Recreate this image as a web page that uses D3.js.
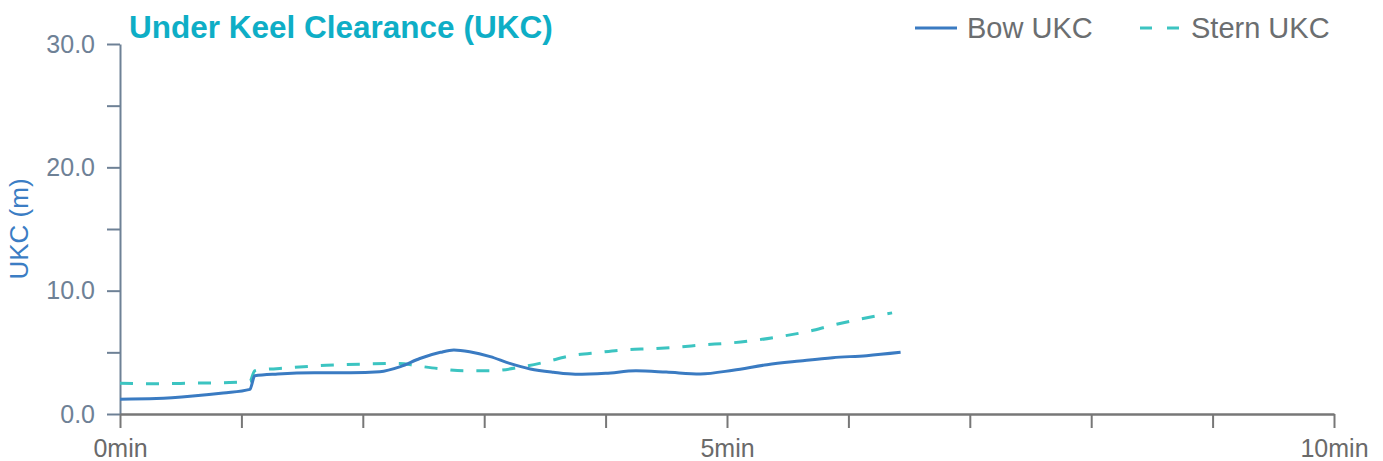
<!DOCTYPE html>
<html><head><meta charset="utf-8">
<script src="https://cdn.jsdelivr.net/npm/d3@7"></script>
<style>body{margin:0;background:#fff}svg{display:block;font-family:"Liberation Sans",Arial,sans-serif}</style>
</head><body><svg id="c" width="1383" height="461"></svg>
<script>
const title = "Under Keel Clearance (UKC)";
const yLabel = "UKC (m)";
const seriesNames = ["Bow UKC", "Stern UKC"];
const xTickValues = [0,1,2,3,4,5,6,7,8,9,10];
const xTickLabels = {0:"0min",5:"5min",10:"10min"};
const yTickValues = [0,5,10,15,20,25,30];
const yTickLabels = {0:"0.0",10:"10.0",20:"20.0",30:"30.0"};

const bowT   = [0,0.3,0.6,0.85,1.07,1.11,1.3,1.6,1.9,2.14,2.31,2.47,2.64,2.75,2.88,3.05,3.21,3.38,3.57,3.75,4.0,4.25,4.5,4.78,5.05,5.33,5.6,5.87,6.15,6.43];
const bowV   = [1.2,1.25,1.45,1.7,2.0,3.1,3.25,3.35,3.35,3.43,3.84,4.5,5.0,5.19,5.05,4.65,4.1,3.65,3.38,3.22,3.3,3.5,3.4,3.25,3.55,4.0,4.3,4.57,4.73,5.0];
const sternT = [0,0.3,0.6,0.9,1.07,1.11,1.4,1.7,2.0,2.3,2.45,2.65,2.85,3.05,3.3,3.5,3.7,3.95,4.15,4.4,4.6,4.8,5.03,5.25,5.45,5.67,5.87,6.1,6.36];
const sternV = [2.5,2.45,2.5,2.55,2.65,3.5,3.75,3.95,4.05,4.1,3.9,3.65,3.5,3.5,3.8,4.2,4.7,5.0,5.2,5.3,5.43,5.6,5.76,6.0,6.3,6.7,7.2,7.7,8.2];

const svg = d3.select("#c");
const m = {l:120, r:49, t:44, b:47};
const W = 1383, H = 461;
const x = d3.scaleLinear().domain([0,10]).range([m.l, W-m.r]);
const y = d3.scaleLinear().domain([0,30]).range([H-m.b, m.t]);
const FONT = "Liberation Sans, Arial, sans-serif";

// y axis
const ya = svg.append("g").attr("transform",`translate(${m.l},0)`)
  .call(d3.axisLeft(y).tickValues(yTickValues).tickFormat(d=>yTickLabels[d]||"").tickSize(13).tickSizeOuter(0));
ya.select(".domain").attr("stroke","#6e8196").attr("stroke-width",2);
ya.selectAll(".tick line").attr("stroke","#6e8196").attr("stroke-width",2);
ya.selectAll(".tick text").attr("fill","#6e8196").attr("font-size",25).attr("x",-25)
  .attr("font-family",FONT);

// x axis
const xa = svg.append("g").attr("transform",`translate(0,${H-m.b})`)
  .call(d3.axisBottom(x).tickValues(xTickValues).tickFormat(d=>xTickLabels[d]||"").tickSize(14).tickSizeOuter(0));
xa.select(".domain").attr("stroke","#777").attr("stroke-width",2.5);
xa.selectAll(".tick line").attr("stroke","#777").attr("stroke-width",2);
xa.selectAll(".tick text").attr("fill","#6a6a6a").attr("font-size",25).attr("dy",null).attr("y",43)
  .attr("font-family",FONT);

// y label
svg.append("text").attr("transform",`translate(28,${(y(0)+y(30))/2}) rotate(-90)`)
  .attr("text-anchor","middle").attr("fill","#3b7dc4").attr("font-size",26).attr("font-family",FONT).text(yLabel);

// title
svg.append("text").attr("x",129).attr("y",38).attr("fill","#0eaec6").attr("font-weight","bold")
  .attr("font-size",31.5).attr("font-family",FONT).text(title);

const line = d3.line().x(d=>x(d[0])).y(d=>y(d[1])).curve(d3.curveMonotoneX);
const bow = bowT.map((t,i)=>[t,bowV[i]]);
const stern = sternT.map((t,i)=>[t,sternV[i]]);

svg.append("path").datum(stern).attr("d",line).attr("fill","none")
  .attr("stroke","#3cc4c1").attr("stroke-width",3).attr("stroke-dasharray","13,13");
svg.append("path").datum(bow).attr("d",line).attr("fill","none")
  .attr("stroke","#3a7bc2").attr("stroke-width",3);

// legend
const lg = svg.append("g").attr("font-family",FONT);
lg.append("line").attr("x1",915).attr("x2",957).attr("y1",28).attr("y2",28).attr("stroke","#3a7bc2").attr("stroke-width",3);
lg.append("text").attr("x",967).attr("y",38).attr("fill","#6b6e70").attr("font-size",29).text(seriesNames[0]);
lg.append("line").attr("x1",1140).attr("x2",1180).attr("y1",28).attr("y2",28).attr("stroke","#3cc4c1").attr("stroke-width",3).attr("stroke-dasharray","12,15");
lg.append("text").attr("x",1191).attr("y",38).attr("fill","#6b6e70").attr("font-size",29).text(seriesNames[1]);
</script></body></html>
